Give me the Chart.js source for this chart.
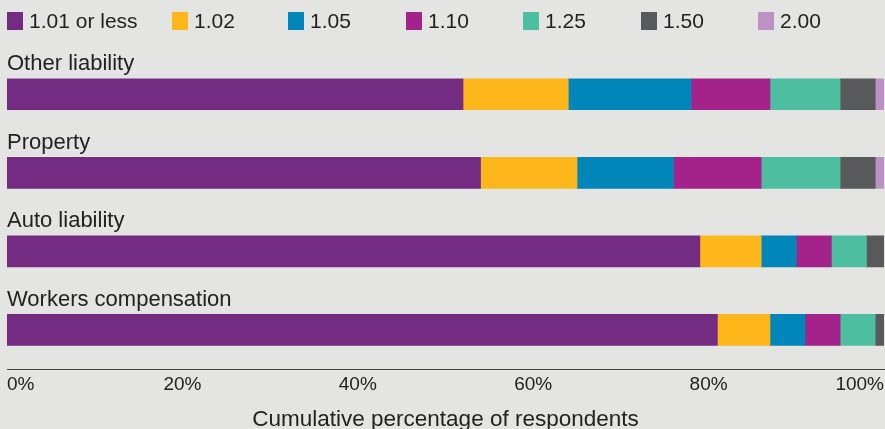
<!DOCTYPE html>
<html>
<head>
<meta charset="utf-8">
<script src="https://cdn.jsdelivr.net/npm/chart.js@4"></script>
<style>
    body { margin: 0; background: #e4e4e2; font-family: "Liberation Sans", Arial, sans-serif; }
    #wrap { position: relative; width: 885px; height: 429px; }
    #legend { position: absolute; left: 0; top: 0; height: 44px; width: 885px; }
    .item { position: absolute; top: 12px; height: 20px; font-size: 21px; color: #222; white-space: nowrap; }
    .item .box { position: absolute; left: 0; top: 0; width: 16px; height: 18px; }
    .item .txt { position: absolute; left: 22px; top: -2px; line-height: 22px; }
</style>
</head>
<body>
<div id="wrap">
    <canvas id="chart" width="885" height="429"></canvas>
    <div id="legend"></div>
</div>
<script>
// Categories (top to bottom)
const categories = ["Other liability", "Property", "Auto liability", "Workers compensation"];

// Series: share of respondents per factor bucket (%)
const seriesNames = ["1.01 or less", "1.02", "1.05", "1.10", "1.25", "1.50", "2.00"];
const s101 = [52, 54, 79, 81];
const s102 = [12, 11, 7, 6];
const s105 = [14, 11, 4, 4];
const s110 = [9, 10, 4, 4];
const s125 = [8, 9, 4, 4];
const s150 = [4, 4, 2, 1];
const s200 = [1, 1, 0, 0];

const xTicks = [0, 20, 40, 60, 80, 100];

const colors = ["#742c82", "#fdb71a", "#0086b9", "#a4238b", "#4dbea0", "#58595b", "#bc92c4"];
const values = [s101, s102, s105, s110, s125, s150, s200];

const datasets = seriesNames.map((name, i) => ({
    label: name,
    data: values[i],
    backgroundColor: colors[i],
    borderWidth: 0,
    barThickness: 31
}));

const chart = new Chart(document.getElementById('chart').getContext('2d'), {
    type: 'bar',
    data: { labels: categories, datasets: datasets },
    options: {
        indexAxis: 'y',
        responsive: false,
        animation: false,
        layout: { padding: { left: 7, right: 1, top: 55, bottom: -4 } },
        scales: {
            x: {
                stacked: true,
                min: 0,
                max: 100,
                afterBuildTicks: (axis) => { axis.ticks = xTicks.map(v => ({ value: v })); },
                // edge labels are aligned inward, so no side padding is needed
                afterFit: (axis) => { axis.paddingLeft = 0; axis.paddingRight = 0; },
                grid: { display: false, drawTicks: false },
                border: { display: true, color: '#444', width: 1 },
                ticks: {
                    align: 'inner',
                    padding: 4.5,
                    color: '#222',
                    font: { family: "Liberation Sans", size: 19 },
                    callback: (v) => v + '%'
                },
                title: {
                    display: true,
                    text: 'Cumulative percentage of respondents',
                    color: '#222',
                    font: { family: "Liberation Sans", size: 22.5 },
                    padding: { top: 5, bottom: 0 }
                }
            },
            y: {
                stacked: true,
                grid: { display: false, drawTicks: false },
                border: { display: false },
                ticks: {
                    mirror: true,
                    padding: 0,
                    labelOffset: -30,
                    color: '#222',
                    font: { family: "Liberation Sans", size: 22 }
                }
            }
        },
        plugins: {
            legend: { display: false },
            tooltip: { enabled: false }
        }
    }
});

// HTML legend built from the chart's datasets, fixed column positions
const legendX = [7, 172, 288, 406, 523, 641, 758];
const legendEl = document.getElementById('legend');
chart.data.datasets.forEach((ds, i) => {
    const item = document.createElement('div');
    item.className = 'item';
    item.style.left = legendX[i] + 'px';
    item.innerHTML = `<span class="box" style="background:${ds.backgroundColor}"></span><span class="txt">${ds.label}</span>`;
    legendEl.appendChild(item);
});
</script>
</body>
</html>
